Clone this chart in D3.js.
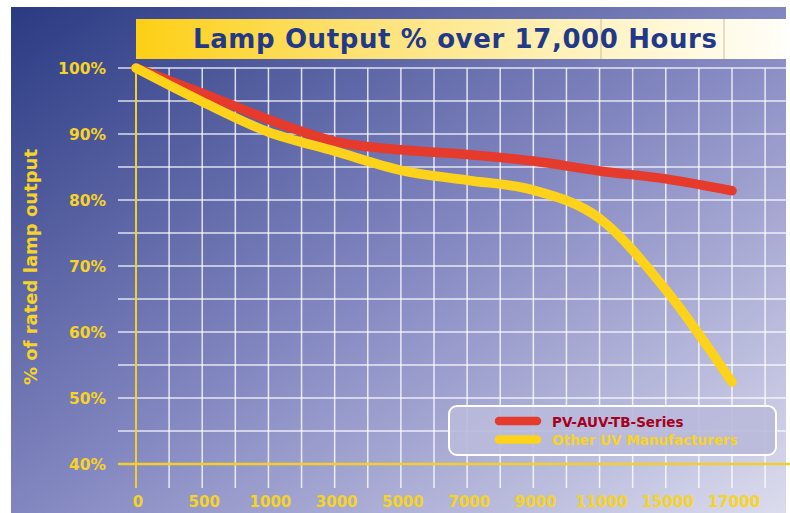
<!DOCTYPE html>
<html>
<head>
<meta charset="utf-8">
<script src="https://cdn.jsdelivr.net/npm/d3@7"></script>
<style>
  html, body { margin: 0; padding: 0; background: #fff; }
  svg { display: block; }
</style>
</head>
<body>
<div id="chart"></div>
<script>
// hours (categorical axis) and % of rated output
var hours = ["0", "500", "1000", "3000", "5000", "7000", "9000", "11000", "15000", "17000"];
var pvSeries = [100, 96.2, 92.2, 88.9, 87.6, 86.9, 85.9, 84.4, 83.2, 81.4];
var otherSeries = [100, 94.9, 90.3, 87.4, 84.5, 83.0, 81.5, 77.2, 66.4, 52.4];
var yTicks = [40, 50, 60, 70, 80, 90, 100];
var seriesNames = ["PV-AUV-TB-Series", "Other UV Manufacturers"];

var W = 790, H = 513;
var RED = "#e53a2c", YEL = "#fcd21a", TXTYEL = "#f6d327";

var svg = d3.select("#chart").append("svg")
    .attr("width", W)
    .attr("height", H);

var defs = svg.append("defs");

var bg = defs.append("linearGradient").attr("id", "bg")
    .attr("x1", "0%").attr("y1", "0%").attr("x2", "100%").attr("y2", "100%");
bg.append("stop").attr("offset", "0%").attr("stop-color", "#2a3a82");
bg.append("stop").attr("offset", "50%").attr("stop-color", "#8286c0");
bg.append("stop").attr("offset", "100%").attr("stop-color", "#dcdcee");

var tb = defs.append("linearGradient").attr("id", "titlebar")
    .attr("x1", "0%").attr("y1", "0%").attr("x2", "100%").attr("y2", "0%");
tb.append("stop").attr("offset", "0%").attr("stop-color", "#fdcf14");
tb.append("stop").attr("offset", "35%").attr("stop-color", "#fde276");
tb.append("stop").attr("offset", "70%").attr("stop-color", "#fff3c2");
tb.append("stop").attr("offset", "100%").attr("stop-color", "#fffef8");

// background panel
svg.append("rect")
    .attr("x", 11).attr("y", 7)
    .attr("width", 775).attr("height", H - 7)
    .attr("fill", "url(#bg)");

var x = d3.scalePoint().domain(hours).range([136, 732]);
var y = d3.scaleLinear().domain([40, 100]).range([464, 68]);

// title bar
svg.append("rect")
    .attr("x", 136).attr("y", 19)
    .attr("width", 650).attr("height", 40)
    .attr("fill", "url(#titlebar)");
svg.selectAll("line.tbsep")
    .data([601, 724])
  .enter().append("line")
    .attr("class", "tbsep")
    .attr("x1", function(d){return d;}).attr("x2", function(d){return d;})
    .attr("y1", 19).attr("y2", 59)
    .attr("stroke", "#c9c0a0").attr("stroke-width", 1);

svg.append("text")
    .attr("x", 455).attr("y", 48)
    .attr("text-anchor", "middle")
    .attr("textLength", 524)
    .attr("font-family", "DejaVu Sans")
    .attr("font-weight", "bold")
    .attr("font-size", 26)
    .attr("fill", "#22398a")
    .text("Lamp Output % over 17,000 Hours");

// grid
var half = x.step() / 2;
var vgrid = d3.range(1, 20).map(function(i){ return x(hours[0]) + i * half; });
svg.append("g").selectAll("line")
    .data(vgrid)
  .enter().append("line")
    .attr("x1", function(d){return d;}).attr("x2", function(d){return d;})
    .attr("y1", y(100)).attr("y2", 488)
    .attr("stroke", "#fff").attr("stroke-opacity", 0.8).attr("stroke-width", 1.5);

svg.append("g").selectAll("line")
    .data(d3.range(45, 101, 5))
  .enter().append("line")
    .attr("x1", 118).attr("x2", 786)
    .attr("y1", function(d){return y(d);}).attr("y2", function(d){return y(d);})
    .attr("stroke", "#fff").attr("stroke-opacity", 0.8).attr("stroke-width", 1.5);

// yellow axes
svg.append("line")
    .attr("x1", 118).attr("x2", 790)
    .attr("y1", y(40)).attr("y2", y(40))
    .attr("stroke", "#f2cf2a").attr("stroke-width", 2.5);
svg.append("line")
    .attr("x1", x(hours[0])).attr("x2", x(hours[0]))
    .attr("y1", y(100)).attr("y2", 488)
    .attr("stroke", "#f2cf2a").attr("stroke-width", 2);

// tick labels
svg.append("g").selectAll("text")
    .data(yTicks)
  .enter().append("text")
    .attr("x", 106).attr("y", function(d){return y(d) + 5.5;})
    .attr("text-anchor", "end")
    .attr("font-family", "DejaVu Sans").attr("font-weight", "bold").attr("font-size", 15.5)
    .attr("fill", TXTYEL)
    .text(function(d){return d + "%";});

svg.append("g").selectAll("text")
    .data(hours)
  .enter().append("text")
    .attr("x", function(d){return x(d) + 2;}).attr("y", 507)
    .attr("text-anchor", "middle")
    .attr("font-family", "DejaVu Sans").attr("font-weight", "bold").attr("font-size", 15)
    .attr("fill", TXTYEL)
    .text(function(d){return d;});

svg.append("text")
    .attr("transform", "translate(37,267) rotate(-90)")
    .attr("text-anchor", "middle")
    .attr("font-family", "DejaVu Sans").attr("font-weight", "bold").attr("font-size", 18)
    .attr("fill", TXTYEL)
    .text("% of rated lamp output");

// lines
var line = d3.line()
    .x(function(d, i){ return x(hours[i]); })
    .y(function(d){ return y(d); })
    .curve(d3.curveMonotoneX);

svg.append("path")
    .attr("d", line(pvSeries))
    .attr("fill", "none").attr("stroke", RED)
    .attr("stroke-width", 9.5).attr("stroke-linecap", "round").attr("stroke-linejoin", "round");
svg.append("path")
    .attr("d", line(otherSeries))
    .attr("fill", "none").attr("stroke", YEL)
    .attr("stroke-width", 9.5).attr("stroke-linecap", "round").attr("stroke-linejoin", "round");

// legend
var lg = svg.append("g");
lg.append("rect")
    .attr("x", 449).attr("y", 406)
    .attr("width", 327).attr("height", 49)
    .attr("rx", 8).attr("ry", 8)
    .attr("fill", "#babadb").attr("fill-opacity", 0.92)
    .attr("stroke", "#fff").attr("stroke-width", 2);

var legendColors = [RED, YEL];
var legendText = ["#a5001c", TXTYEL];
seriesNames.forEach(function(name, i){
  var ly = 421 + i * 18.5;
  lg.append("line")
      .attr("x1", 499).attr("x2", 537)
      .attr("y1", ly).attr("y2", ly)
      .attr("stroke", legendColors[i]).attr("stroke-width", 8.5)
      .attr("stroke-linecap", "round");
  lg.append("text")
      .attr("x", 552).attr("y", ly + 5.5)
      .attr("font-family", "DejaVu Sans").attr("font-weight", "bold").attr("font-size", 13.5)
      .attr("fill", legendText[i])
      .text(name);
});
</script>
</body>
</html>
